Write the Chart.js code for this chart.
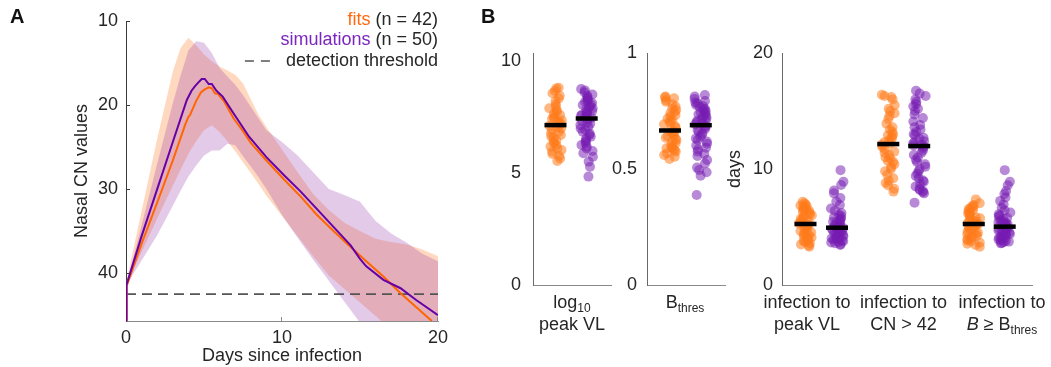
<!DOCTYPE html>
<html><head><meta charset="utf-8">
<script src="https://cdn.jsdelivr.net/npm/chart.js@4.4.1/dist/chart.umd.min.js"></script>
<style>
html,body{margin:0;padding:0;background:#fff;}
#wrap{position:relative;width:1051px;height:367px;overflow:hidden;background:#fff;}
canvas{position:absolute;left:0;top:0;}
</style></head><body>
<div id="wrap">
<canvas id="cA" width="1051" height="367"></canvas>
<canvas id="cB1" width="1051" height="367"></canvas>
<canvas id="cB2" width="1051" height="367"></canvas>
<canvas id="cB3" width="1051" height="367"></canvas>
</div>
<script>
// ================= DATA =================
// Panel A: Nasal CN trajectories (days since infection)
const bandDays     = [0, 1, 2, 3, 3.5, 4, 4.5, 5, 5.5, 6, 6.5, 7, 7.5, 8, 8.5, 9, 10, 11, 12, 13, 14, 15, 16, 17, 18, 19, 20];
const fitsBandMin  = [41.2, 32.6, 24.0, 16.0, 13.2, 12.0, 12.9, 14.0, 14.8, 15.4, 15.9, 16.4, 17.4, 19.3, 21.2, 22.6, 25.3, 28.0, 30.6, 32.5, 34.0, 35.0, 35.9, 36.3, 36.6, 37.2, 38.0];
const fitsBandMax  = [41.5, 37.5, 33.5, 29.6, 27.7, 25.8, 24.3, 23.0, 22.4, 23.2, 24.3, 25.5, 26.8, 28.1, 29.4, 30.8, 33.2, 35.6, 38.0, 40.3, 41.9, 43.5, 45.1, 46.8, 48.5, 50.2, 51.9];
const simsBandMin  = [41.5, 34.3, 27.0, 19.8, 16.5, 13.5, 12.4, 12.6, 13.8, 15.6, 16.6, 17.6, 18.8, 20.2, 21.6, 23.0, 24.4, 26.0, 28.0, 30.0, 30.7, 31.5, 33.8, 35.3, 36.4, 37.7, 38.6];
const simsBandMax  = [41.5, 38.5, 35.5, 32.0, 30.2, 28.5, 27.2, 26.0, 25.4, 25.4, 24.6, 24.8, 26.1, 27.3, 28.6, 30.0, 33.1, 35.8, 38.4, 40.9, 43.4, 45.9, 48.4, 50.9, 53.4, 55.9, 58.4];
const fitsMedianDays = [0, 0.05, 1, 2, 3, 3.8, 4.0, 4.1, 4.5, 4.8, 5.0, 5.3, 5.5, 5.7, 5.9, 6.3, 6.9, 7.5, 8.0, 9.0, 10.1, 11.2, 12.2, 13.3, 14.4, 15.4, 16.5, 17.6, 18.7, 19.6];
const fitsMedian     = [45.7, 41.5, 36.5, 31.6, 26.6, 22.3, 21.4, 21.2, 19.5, 18.5, 18.2, 17.9, 18.0, 18.6, 18.7, 19.6, 21.6, 23.1, 24.5, 26.6, 28.8, 30.9, 33.0, 35.0, 36.9, 38.6, 40.4, 42.4, 44.2, 45.7];
const simsMedianDays = [0, 0.03, 1, 2, 3, 3.9, 4.2, 4.4, 4.6, 4.85, 5.05, 5.3, 5.5, 5.8, 6.2, 6.9, 7.9, 9.0, 10.1, 11.2, 12.2, 13.3, 14.0, 14.4, 15.0, 15.4, 16.5, 17.6, 18.6, 20];
const simsMedian     = [45.7, 41.4, 35.6, 30.0, 24.4, 19.4, 18.3, 17.8, 17.4, 16.9, 16.9, 17.5, 17.5, 18.3, 19.0, 21.0, 23.8, 26.2, 28.3, 30.3, 32.3, 34.5, 35.9, 36.7, 38.3, 39.2, 40.8, 41.8, 43.2, 45.0];
const detectionThreshold = 42.5;
const panelAXTicks = [0, 10, 20];
const panelAYTicks = [10, 20, 30, 40];

// Panel B: per-individual parameters (fits n=42, simulations n=50)
const fitsPeakVL = [8.81,8.78,8.66,8.56,8.45,8.33,8.21,8.07,7.96,7.89,7.81,7.74,7.66,7.59,7.51,7.47,7.41,7.35,7.29,7.23,7.17,7.11,7.05,6.99,6.92,6.85,6.77,6.70,6.62,6.55,6.47,6.40,6.32,6.25,6.18,6.10,6.03,5.95,5.85,5.76,5.65,5.54];
const simsPeakVL = [8.75,8.69,8.60,8.51,8.45,8.39,8.33,8.27,8.21,8.18,8.13,8.07,8.04,7.98,7.92,7.89,7.83,7.77,7.74,7.68,7.62,7.59,7.56,7.51,7.47,7.40,7.32,7.26,7.20,7.14,7.07,6.99,6.92,6.85,6.77,6.70,6.62,6.55,6.46,6.40,6.32,6.25,6.18,6.10,5.98,5.88,5.73,5.51,5.28,4.84];
const fitsBthres = [0.812,0.809,0.805,0.797,0.790,0.779,0.769,0.761,0.754,0.747,0.740,0.733,0.726,0.718,0.711,0.707,0.701,0.693,0.684,0.678,0.671,0.661,0.657,0.652,0.647,0.641,0.635,0.629,0.624,0.618,0.611,0.603,0.596,0.592,0.589,0.585,0.580,0.575,0.568,0.560,0.553,0.543];
const simsBthres = [0.819,0.812,0.802,0.793,0.787,0.782,0.776,0.772,0.767,0.761,0.757,0.753,0.747,0.743,0.739,0.736,0.730,0.726,0.721,0.716,0.711,0.707,0.701,0.697,0.693,0.685,0.680,0.674,0.668,0.661,0.654,0.647,0.639,0.632,0.625,0.618,0.609,0.601,0.592,0.585,0.575,0.565,0.556,0.539,0.524,0.506,0.496,0.486,0.471,0.388];
const fitsTimeToPeak = [7.18,7.05,6.95,6.85,6.78,6.70,6.62,6.55,6.48,6.40,6.30,6.20,6.10,6.00,5.90,5.80,5.70,5.60,5.50,5.40,5.30,5.22,5.15,5.05,4.95,4.85,4.75,4.65,4.55,4.45,4.38,4.30,4.20,4.10,4.00,3.90,3.80,3.70,3.60,3.50,3.40,3.30];
const simsTimeToPeak = [9.90,8.90,8.62,8.15,7.90,7.50,7.20,6.90,6.60,6.40,6.20,6.05,5.95,5.85,5.75,5.65,5.55,5.45,5.38,5.30,5.22,5.15,5.08,5.02,4.97,4.91,4.85,4.80,4.74,4.68,4.62,4.56,4.50,4.44,4.38,4.32,4.26,4.20,4.14,4.08,4.02,3.96,3.90,3.84,3.78,3.72,3.66,3.60,3.52,3.45];
const fitsTimeToCN42 = [16.4,16.3,16.2,16.0,15.5,15.2,15.0,14.8,14.6,14.3,13.9,13.6,13.4,13.2,13.0,12.9,12.8,12.6,12.5,12.3,12.2,12.1,11.9,11.7,11.5,11.4,11.2,11.0,10.9,10.7,10.6,10.4,10.2,10.0,9.8,9.5,9.2,9.0,8.8,8.6,8.3,8.05];
const simsTimeToCN42 = [16.75,16.5,16.3,16.0,15.8,15.6,15.4,15.2,15.0,14.7,14.4,14.1,13.8,13.6,13.4,13.2,13.0,12.9,12.7,12.6,12.4,12.3,12.2,12.1,12.02,11.94,11.8,11.6,11.4,11.2,11.0,10.8,10.6,10.4,10.2,10.0,9.8,9.6,9.4,9.2,9.0,8.9,8.7,8.5,8.3,8.2,8.1,8.0,7.9,7.1];
const fitsTimeToB = [7.38,7.05,6.90,6.80,6.72,6.62,6.55,6.45,6.35,6.25,6.15,6.05,5.95,5.85,5.75,5.65,5.55,5.48,5.40,5.33,5.28,5.24,5.18,5.10,5.00,4.90,4.80,4.70,4.60,4.50,4.42,4.35,4.25,4.15,4.05,3.95,3.85,3.75,3.65,3.55,3.45,3.30];
const simsTimeToB = [9.90,8.90,8.60,8.10,7.85,7.55,7.25,6.95,6.65,6.45,6.25,6.10,5.98,5.88,5.78,5.68,5.58,5.50,5.42,5.35,5.28,5.21,5.15,5.10,5.06,5.00,4.94,4.88,4.82,4.76,4.70,4.64,4.58,4.52,4.46,4.40,4.34,4.28,4.22,4.16,4.10,4.04,3.98,3.92,3.86,3.80,3.74,3.68,3.63,3.59];
const peakVLTicks = [0, 5, 10];
const bthresTicks = [0, 0.5, 1];
const daysTicks   = [0, 10, 20];

// Category labels (rich text parts: sub = subscript, it = italic)
const catPeakVL   = [[{t:'log'},{t:'10',sub:true}], [{t:'peak VL'}]];
const catBthres   = [[{t:'B'},{t:'thres',sub:true}]];
const catToPeak   = [[{t:'infection to'}], [{t:'peak VL'}]];
const catToCN42   = [[{t:'infection to'}], [{t:'CN > 42'}]];
const catToB      = [[{t:'infection to'}], [{t:'B',it:true},{t:' \u2265 B'},{t:'thres',sub:true}]];

// ================= STYLE / LAYOUT =================
const FONT = '"Liberation Sans", Arial, Helvetica, sans-serif';
const TXT = '#262626';
const ORANGE_LINE = '#ff6600', PURPLE_LINE = '#6600a8';
const ORANGE_TXT = '#ff6a10', PURPLE_TXT = '#7a26c0';
const ORANGE_BAND = 'rgba(252,150,80,0.36)', PURPLE_BAND = 'rgba(150,50,170,0.26)';
const ORANGE_PT = 'rgba(255,122,26,0.55)', PURPLE_PT = 'rgba(118,28,178,0.52)';
const W = 1051, H = 367;
Chart.defaults.font.family = FONT;
Chart.defaults.animation = false;

const zip = (xs, ys) => xs.map((x, i) => ({x, y: ys[i]}));
const median = a => { const s = [...a].sort((p, q) => p - q); const n = s.length; return n % 2 ? s[(n - 1) / 2] : (s[n / 2 - 1] + s[n / 2]) / 2; };
// deterministic horizontal spread for the strip plots (layout only)
const jitter = (i, half, seed) => { const s = Math.sin((i + 1) * 12.9898 + seed * 78.233) * 43758.5453; return ((s - Math.floor(s)) * 2 - 1) * half; };

function drawRich(ctx, parts, cx, cy) {
  const fontOf = p => p.sub ? `12px ${FONT}` : (p.it ? `italic 18px ${FONT}` : `18px ${FONT}`);
  let w = 0;
  parts.forEach(p => { ctx.font = fontOf(p); w += ctx.measureText(p.t).width; });
  let x = cx - w / 2;
  ctx.textAlign = 'left'; ctx.textBaseline = 'middle'; ctx.fillStyle = TXT;
  parts.forEach(p => { ctx.font = fontOf(p); ctx.fillText(p.t, x, p.sub ? cy + 6 : cy); x += ctx.measureText(p.t).width; });
}

const bandLine = (data, fill, color) => ({data, borderColor: 'rgba(0,0,0,0)', borderWidth: 0, pointRadius: 0, pointHoverRadius: 0, fill, backgroundColor: color || 'rgba(0,0,0,0)', tension: 0});

// ================= PANEL A =================
new Chart(document.getElementById('cA'), {
  type: 'line',
  data: { datasets: [
    {data: zip(simsMedianDays, simsMedian), borderColor: PURPLE_LINE, borderWidth: 2, pointRadius: 0, fill: false, tension: 0},
    {data: zip(fitsMedianDays, fitsMedian), borderColor: ORANGE_LINE, borderWidth: 2, pointRadius: 0, fill: false, tension: 0},
    {data: [{x: panelAXTicks[0], y: detectionThreshold}, {x: panelAXTicks[panelAXTicks.length - 1], y: detectionThreshold}], borderColor: '#555', borderWidth: 1.6, borderDash: [10, 6], pointRadius: 0, fill: false},
    bandLine(zip(bandDays, simsBandMin), '+1', PURPLE_BAND),
    bandLine(zip(bandDays, simsBandMax), false),
    bandLine(zip(bandDays, fitsBandMin), '+1', ORANGE_BAND),
    bandLine(zip(bandDays, fitsBandMax), false)
  ]},
  options: {
    responsive: false, devicePixelRatio: 1, animation: false,
    layout: {padding: {left: 0, top: 21, right: W - 438, bottom: 0}},
    plugins: {legend: {display: false}, tooltip: {enabled: false}},
    scales: {
      x: {type: 'linear', min: 0, max: 20,
        afterBuildTicks: s => { s.ticks = panelAXTicks.map(v => ({value: v})); },
        afterFit: s => { s.height = H - 321; },
        grid: {display: false, drawTicks: false}, border: {display: true, color: '#8a8a8a', width: 1},
        ticks: {font: {size: 18}, color: TXT, padding: 6, maxRotation: 0, autoSkip: false}},
      y: {type: 'linear', reverse: true, min: 10, max: 45.7,
        afterBuildTicks: s => { s.ticks = panelAYTicks.map(v => ({value: v})); },
        afterFit: s => { s.width = 126; },
        grid: {display: false, drawTicks: false}, border: {display: true, color: '#3a3a3a', width: 1},
        ticks: {font: {size: 18}, color: TXT, padding: 8, autoSkip: false}}
    }
  },
  plugins: [{id: 'decoA', afterDraw(chart) {
    const {ctx, chartArea: ca, scales: {x, y}} = chart;
    ctx.save();
    ctx.lineWidth = 1;
    ctx.strokeStyle = '#3a3a3a';
    ctx.beginPath();
    panelAYTicks.forEach(v => { const py = Math.round(y.getPixelForValue(v)) + 0.5; ctx.moveTo(ca.left, py); ctx.lineTo(ca.left + 4, py); });
    ctx.stroke();
    ctx.strokeStyle = '#8a8a8a';
    ctx.beginPath();
    panelAXTicks.slice(1).forEach(v => { const px = Math.round(x.getPixelForValue(v)) - 0.5; ctx.moveTo(px, ca.bottom); ctx.lineTo(px, ca.bottom - 4); });
    ctx.stroke();
    ctx.fillStyle = TXT; ctx.font = `18px ${FONT}`; ctx.textAlign = 'center'; ctx.textBaseline = 'middle';
    ctx.fillText('Days since infection', (ca.left + ca.right) / 2, 356);
    ctx.save(); ctx.translate(82, 171); ctx.rotate(-Math.PI / 2); ctx.fillText('Nasal CN values', 0, 0); ctx.restore();
    const rx = ca.right;
    ctx.textAlign = 'right';
    const r1 = ` (n = ${fitsPeakVL.length})`, r2 = ` (n = ${simsPeakVL.length})`;
    ctx.fillStyle = TXT; ctx.fillText(r1, rx, 20);
    ctx.fillStyle = ORANGE_TXT; ctx.fillText('fits', rx - ctx.measureText(r1).width, 20);
    ctx.fillStyle = TXT; ctx.fillText(r2, rx, 40);
    ctx.fillStyle = PURPLE_TXT; ctx.fillText('simulations', rx - ctx.measureText(r2).width, 40);
    ctx.fillStyle = TXT; ctx.fillText('detection threshold', rx, 61);
    const tw = ctx.measureText('detection threshold').width;
    ctx.strokeStyle = '#555'; ctx.lineWidth = 1.6; ctx.setLineDash([9, 7]);
    ctx.beginPath(); ctx.moveTo(rx - tw - 41, 61); ctx.lineTo(rx - tw - 16, 61); ctx.stroke();
    ctx.setLineDash([]);
    ctx.font = `bold 20px ${FONT}`; ctx.textAlign = 'left'; ctx.fillStyle = '#111';
    ctx.fillText('A', 10, 17);
    ctx.fillText('B', 481, 17);
    ctx.restore();
  }}]
});

// ================= PANEL B =================
const JIT = 6.5;
function stripChart(id, spec) {
  const meds = [];
  spec.groups.forEach(g => { meds.push({x: g.fitsX, y: median(g.fits)}, {x: g.simsX, y: median(g.sims)}); });
  const datasets = [{data: meds, pointStyle: 'line', pointRadius: 11, pointHoverRadius: 11, pointBorderWidth: 4.5, pointHoverBorderWidth: 4.5, pointBorderColor: '#000', pointBackgroundColor: '#000'}];
  spec.groups.forEach((g, gi) => {
    datasets.push({data: g.fits.map((v, i) => ({x: g.fitsX + jitter(i, JIT, spec.seed + gi * 2), y: v})), pointRadius: 5, pointHoverRadius: 5, pointBackgroundColor: ORANGE_PT, pointBorderWidth: 0});
    datasets.push({data: g.sims.map((v, i) => ({x: g.simsX + jitter(i, JIT, spec.seed + gi * 2 + 1), y: v})), pointRadius: 5, pointHoverRadius: 5, pointBackgroundColor: PURPLE_PT, pointBorderWidth: 0});
  });
  const YW = 40;
  new Chart(document.getElementById(id), {
    type: 'scatter',
    data: {datasets},
    options: {
      responsive: false, devicePixelRatio: 1, animation: false,
      layout: {padding: {left: spec.left - YW, right: W - spec.right, top: 53, bottom: 0}},
      plugins: {legend: {display: false}, tooltip: {enabled: false}},
      scales: {
        x: {type: 'linear', min: 0, max: spec.right - spec.left,
          afterFit: s => { s.height = H - 285; },
          ticks: {display: false}, grid: {display: false, drawTicks: false},
          border: {display: true, color: '#8a8a8a', width: 1}},
        y: {type: 'linear', min: spec.ticks[0], max: spec.yMax,
          afterBuildTicks: s => { s.ticks = spec.ticks.map(v => ({value: v})); },
          afterFit: s => { s.width = YW; },
          grid: {display: false, drawTicks: false}, border: {display: true, color: '#6a6a6a', width: 1},
          ticks: {font: {size: 18}, color: TXT, padding: spec.tickPad, autoSkip: false, callback: v => String(v)}}
      }
    },
    plugins: [{id: 'decoB', afterDraw(chart) {
      const ctx = chart.ctx, x = chart.scales.x;
      ctx.save();
      spec.labels.forEach(l => {
        const cx = x.getPixelForValue(l.at);
        l.lines.forEach((parts, k) => drawRich(ctx, parts, cx, 303 + k * 22));
      });
      if (spec.title) {
        ctx.fillStyle = TXT; ctx.font = `18px ${FONT}`; ctx.textAlign = 'center'; ctx.textBaseline = 'middle';
        ctx.translate(735, 169); ctx.rotate(-Math.PI / 2); ctx.fillText(spec.title, 0, 0);
      }
      ctx.restore();
    }}]
  });
}

stripChart('cB1', {left: 533, right: 611, yMax: 10.36, ticks: peakVLTicks, tickPad: 12, seed: 1,
  groups: [{fits: fitsPeakVL, sims: simsPeakVL, fitsX: 22.5, simsX: 53.7}],
  labels: [{at: 39, lines: catPeakVL}]});
stripChart('cB2', {left: 647, right: 725, yMax: 1, ticks: bthresTicks, tickPad: 10, seed: 5,
  groups: [{fits: fitsBthres, sims: simsBthres, fitsX: 23, simsX: 53.8}],
  labels: [{at: 38, lines: catBthres}]});
stripChart('cB3', {left: 782, right: 1032, yMax: 20, ticks: daysTicks, tickPad: 9, title: 'days', seed: 9,
  groups: [
    {fits: fitsTimeToPeak, sims: simsTimeToPeak, fitsX: 23.5, simsX: 55},
    {fits: fitsTimeToCN42, sims: simsTimeToCN42, fitsX: 106.3, simsX: 137.2},
    {fits: fitsTimeToB, sims: simsTimeToB, fitsX: 191.8, simsX: 222.7}],
  labels: [{at: 25, lines: catToPeak}, {at: 121.5, lines: catToCN42}, {at: 220, lines: catToB}]});
</script>
</body></html>
